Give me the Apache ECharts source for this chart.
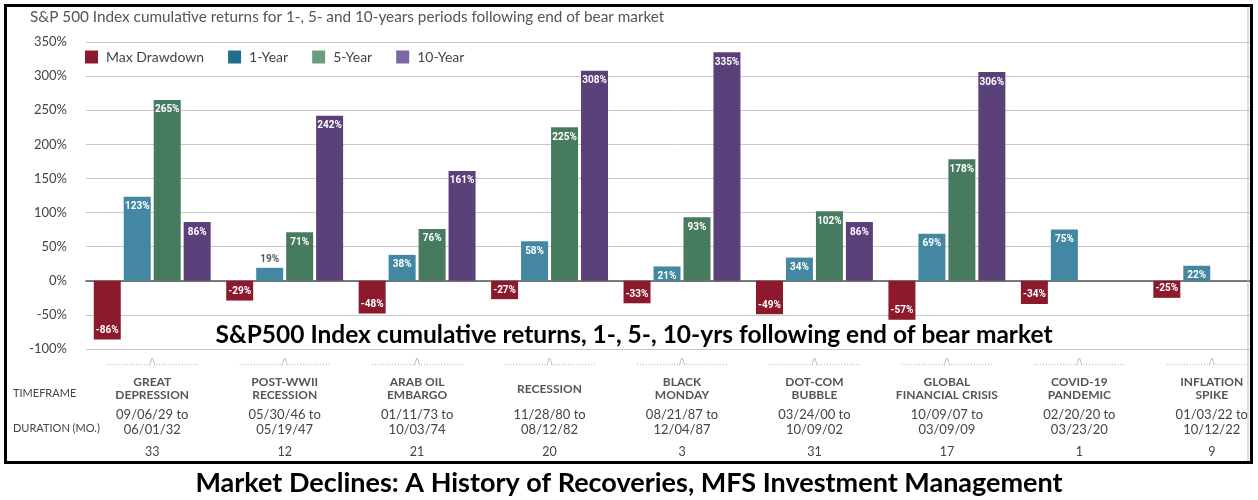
<!DOCTYPE html>
<html>
<head>
<meta charset="utf-8">
<script src="https://cdn.jsdelivr.net/npm/echarts@6/dist/echarts.min.js"></script>
<style>
html,body{margin:0;padding:0;background:#fff;}
#main{width:1258px;height:500px;}
</style>
</head>
<body>
<div id="main"></div>
<script>
// ---- data ----
var categories = ['GREAT\nDEPRESSION', 'POST-WWII\nRECESSION', 'ARAB OIL\nEMBARGO', 'RECESSION', 'BLACK\nMONDAY', 'DOT-COM\nBUBBLE', 'GLOBAL\nFINANCIAL CRISIS', 'COVID-19\nPANDEMIC', 'INFLATION\nSPIKE'];
var dateStart = ['09/06/29 to', '05/30/46 to', '01/11/73 to', '11/28/80 to', '08/21/87 to', '03/24/00 to', '10/09/07 to', '02/20/20 to', '01/03/22 to'];
var dateEnd = ['06/01/32', '05/19/47', '10/03/74', '08/12/82', '12/04/87', '10/09/02', '03/09/09', '03/23/20', '10/12/22'];
var durations = [33, 12, 21, 20, 3, 31, 17, 1, 9];
var maxDrawdown = [-86, -29, -48, -27, -33, -49, -57, -34, -25];
var oneYear = [123, 19, 38, 58, 21, 34, 69, 75, 22];
var fiveYear = [265, 71, 76, 225, 93, 102, 178, null, null];
var tenYear = [86, 242, 161, 308, 335, 86, 306, null, null];
var yTicks = { min: -100, max: 350, interval: 50 };

var chart = echarts.init(document.getElementById('main'));
var labelFont = "Roboto, sans-serif";

function posLabel(arr) {
  return arr.map(function (v) {
    if (v === 19) {
      return { value: v, label: { position: 'top', distance: 3, color: '#555' } };
    }
    return v;
  });
}

var barLabelPos = { show: true, position: 'insideTop', distance: 5, color: '#fff', fontWeight: 'bold', fontSize: 10, fontFamily: labelFont, formatter: '{c}%' };
var barLabelNeg = { show: true, position: 'insideBottom', distance: 4, color: '#fff', fontWeight: 'bold', fontSize: 10, fontFamily: labelFont, formatter: '{c}%' };

var caret = '...............' + '/\\' + '...............';

var option = {
  animation: false,
  backgroundColor: '#fff',
  textStyle: { fontFamily: 'Lato, sans-serif' },
  title: [{
    text: 'S&P 500 Index cumulative returns for 1-, 5- and 10-years periods following end of bear market',
    left: 30, top: 10, padding: 0,
    textStyle: { fontSize: 15.3, fontWeight: 'normal', color: '#555', fontFamily: 'Lato, sans-serif' }
  }],
  legend: {
    left: 85, top: 50, padding: 0,
    itemWidth: 13, itemHeight: 13, itemGap: 24,
    icon: 'rect',
    textStyle: { fontSize: 14, color: '#444', padding: [0, 0, 0, 3] },
    data: [
      { name: 'Max Drawdown', itemStyle: { color: '#8c1a2c' } },
      { name: '1-Year', itemStyle: { color: '#1f6e8c' } },
      { name: '5-Year', itemStyle: { color: '#6b9c80' } },
      { name: '10-Year', itemStyle: { color: '#7a67a3' } }
    ]
  },
  grid: { left: 86, top: 42, width: 1192, height: 307, outerBoundsMode: 'none', containLabel: false },
  xAxis: [{
    type: 'category',
    data: categories,
    axisLine: { show: true, onZero: true, lineStyle: { color: '#555', width: 1.5 } },
    axisTick: { show: false },
    axisLabel: { show: false }
  }, {
    type: 'category',
    data: categories,
    position: 'bottom',
    axisLine: { show: false },
    axisTick: { show: false },
    axisLabel: {
      show: true, margin: 1, interval: 0, hideOverlap: false,
      formatter: function (val, idx) {
        var parts = val.split('\n');
        var s = '{c|' + caret + '}\n';
        if (parts.length === 1) {
          s += '{n1|' + parts[0] + '}\n';
        } else {
          s += '{n|' + parts[0] + '}\n{n|' + parts[1] + '}\n';
        }
        s += '{sp| }\n{d|' + dateStart[idx] + '}\n{d|' + dateEnd[idx] + '}\n{u|' + durations[idx] + '}';
        return s;
      },
      rich: {
        c: { fontSize: 9, color: '#b0b0b0', lineHeight: 26, fontFamily: 'DejaVu Sans' },
        n: { fontSize: 12, fontWeight: 'bold', color: '#555', lineHeight: 13, fontFamily: 'Lato, sans-serif' },
        n1: { fontSize: 12, fontWeight: 'bold', color: '#555', lineHeight: 26, fontFamily: 'Lato, sans-serif' },
        sp: { fontSize: 4, lineHeight: 5 },
        d: { fontSize: 13, color: '#444', lineHeight: 15, fontFamily: 'Lato, sans-serif' },
        u: { fontSize: 12.5, color: '#444', lineHeight: 30, fontFamily: 'Lato, sans-serif' }
      }
    }
  }],
  yAxis: {
    type: 'value',
    min: yTicks.min, max: yTicks.max, interval: yTicks.interval,
    axisLine: { show: false },
    axisTick: { show: false },
    axisLabel: { formatter: '{value}%', color: '#444', fontSize: 13, margin: 19, fontFamily: 'Lato, sans-serif' },
    splitLine: { lineStyle: { color: '#c8c8c8', width: 1 } }
  },
  series: [
    { name: 'Max Drawdown', type: 'bar', data: maxDrawdown, barWidth: 27, barGap: '11%', itemStyle: { color: '#8c1a2c' }, label: barLabelNeg },
    { name: '1-Year', type: 'bar', data: posLabel(oneYear), barWidth: 27, barGap: '11%', itemStyle: { color: '#4387a2' }, label: barLabelPos },
    { name: '5-Year', type: 'bar', data: fiveYear, barWidth: 27, barGap: '11%', itemStyle: { color: '#477b5f' }, label: barLabelPos },
    { name: '10-Year', type: 'bar', data: tenYear, barWidth: 27, barGap: '11%', itemStyle: { color: '#5a417a' }, label: barLabelPos }
  ],
  graphic: [
    { type: 'text', left: 13, top: 388, style: { text: 'TIMEFRAME', fontSize: 11, fill: '#444', fontFamily: 'Lato, sans-serif' } },
    { type: 'text', left: 13, top: 423, style: { text: 'DURATION (MO.)', fontSize: 11, fill: '#444', fontFamily: 'Lato, sans-serif' } },
    { type: 'text', x: 634, y: 335, z: 100, style: { text: 'S&P500 Index cumulative returns, 1-, 5-, 10-yrs following end of bear market', fontSize: 24.5, fontWeight: 'bold', fill: '#000', align: 'center', verticalAlign: 'middle', fontFamily: 'Lato, sans-serif' } },
    { type: 'text', x: 629, y: 483, z: 100, style: { text: 'Market Declines: A History of Recoveries, MFS Investment Management', fontSize: 27, fontWeight: 'bold', fill: '#000', align: 'center', verticalAlign: 'middle', fontFamily: 'Lato, sans-serif' } },
    { type: 'rect', z: 90, shape: { x: 1253, y: 0, width: 10, height: 500 }, style: { fill: '#fff' } },
    { type: 'line', z: 95, shape: { x1: 1248, y1: 6, x2: 1248, y2: 462 }, style: { stroke: '#bbb', lineWidth: 1 } },
    { type: 'rect', z: 96, shape: { x: 5.5, y: 5.5, width: 1246, height: 457 }, style: { fill: null, stroke: '#000', lineWidth: 3 } }
  ]
};
chart.setOption(option);
</script>
</body>
</html>
